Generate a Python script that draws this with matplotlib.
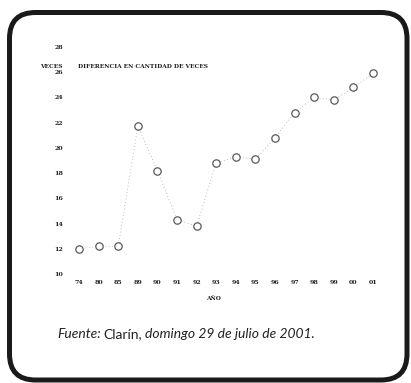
import matplotlib
matplotlib.use("Agg")
import matplotlib.pyplot as plt
from matplotlib.patches import FancyBboxPatch

# data
years = ["74", "80", "85", "89", "90", "91", "92", "93", "94", "95",
         "96", "97", "98", "99", "00", "01"]
veces = [12.0, 12.2, 12.2, 21.7, 18.2, 14.3, 13.8, 18.8, 19.3, 19.1,
         20.8, 22.8, 24.0, 23.8, 24.8, 25.9]
yticks = [10, 12, 14, 16, 18, 20, 22, 24, 26, 28]
source = [("Fuente:", "italic"), ("Clarín,", "normal"),
          ("domingo 29 de julio de 2001.", "italic")]

W, H = 411, 383
fig = plt.figure(figsize=(W / 100, H / 100), dpi=100)

# rounded outer frame
bg = fig.add_axes([0, 0, 1, 1])
bg.set_xlim(0, W)
bg.set_ylim(H, 0)
bg.axis("off")
frame = FancyBboxPatch((9.5 + 26, 12.5 + 26), 397.5 - 52, 367.5 - 52,
                       boxstyle="round,pad=26", fc="white", ec="#1a1a1a", lw=3.6)
bg.add_patch(frame)

# chart area (pixel extents from reference)
left, right, top, bottom = 70, 383, 40, 277
ax = fig.add_axes([left / W, (H - bottom) / H, (right - left) / W, (bottom - top) / H])
ax.set_facecolor("none")
x = list(range(len(years)))
ax.plot(x, veces, ls=(0, (1, 3)), color="#a8a8a8", lw=0.6, zorder=1)
ax.plot(x, veces, ls="none", marker="o", ms=5.3, mfc="white", mec="#5a5a5a",
        mew=0.9, zorder=2)
ax.set_xlim(-9 / 19.6, 15 + 10 / 19.6)
ax.set_ylim(10 - 3 / 12.6, 28 + 7 / 12.6)
ax.set_xticks(x)
ax.set_xticklabels(years)
ax.set_yticks(yticks)
for s in ax.spines.values():
    s.set_visible(False)
ax.tick_params(length=0, labelsize=4.5, colors="#222222", labelfontfamily="DejaVu Serif")
ax.tick_params(axis="y", pad=5)
ax.tick_params(axis="x", pad=2)
for lab in ax.get_xticklabels() + ax.get_yticklabels():
    lab.set_fontweight("bold")

serif = dict(family="DejaVu Serif", fontsize=4.2, color="#222222", va="center",
             fontweight="bold")
bg.text(40, 66, "VECES", ha="left", **serif)
bg.text(78, 66, "DIFERENCIA EN CANTIDAD DE VECES", ha="left", **serif)
bg.text(213, 298, "AÑO", ha="center", **serif)

# source line, pieces placed one after the other
fig.canvas.draw()
r = fig.canvas.get_renderer()
xpos = 57
for txt, st in source:
    t = bg.text(xpos, 338, txt, family="Lato", style=st, fontsize=10,
                color="#222222", va="baseline", ha="left")
    bb = t.get_window_extent(r)
    xpos += bb.width + 3

fig.savefig("out.png", dpi=100)
